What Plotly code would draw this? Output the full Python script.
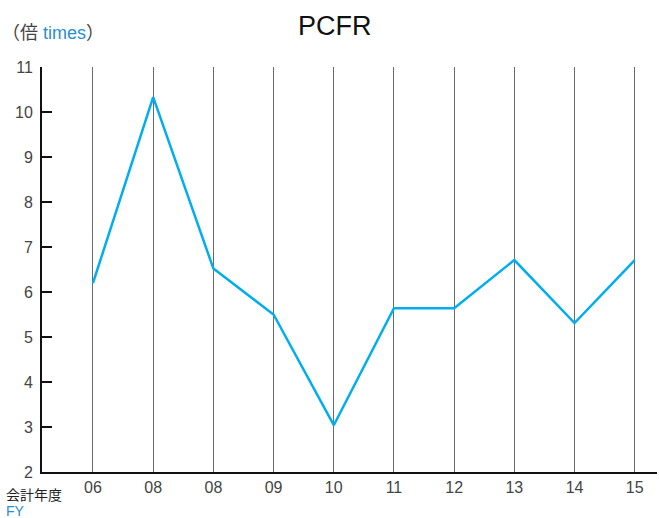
import plotly.graph_objects as go

years = ["06", "08", "08", "09", "10", "11", "12", "13", "14", "15"]
pcfr = [6.2, 10.33, 6.52, 5.5, 3.04, 5.64, 5.64, 6.71, 5.31, 6.71]
y_ticks = [2, 3, 4, 5, 6, 7, 8, 9, 10, 11]

x_pos = list(range(len(years)))
FONT = "Liberation Sans, Noto Sans CJK JP, sans-serif"
CJK = "Noto Sans CJK JP"

fig = go.Figure()
fig.add_trace(go.Scatter(
    x=x_pos, y=pcfr, mode="lines",
    line=dict(color="#00aeef", width=2.5),
    hoverinfo="skip", showlegend=False,
))

fig.update_layout(
    width=659, height=518,
    margin=dict(l=42, r=2, t=67, b=46, autoexpand=False),
    paper_bgcolor="white", plot_bgcolor="white",
    font=dict(family=FONT, color="#444", size=16),
    title=dict(text="PCFR", x=0.508, xanchor="center", y=0.95, yanchor="middle",
               font=dict(family=FONT, size=27, color="#111")),
    showlegend=False,
)
fig.update_xaxes(
    range=[-0.847, 9.37], automargin=False,
    tickmode="array", tickvals=x_pos, ticktext=years,
    showgrid=True, gridcolor="#6a6a6a", gridwidth=1,
    showline=True, linecolor="#111", linewidth=2,
    ticks="", zeroline=False,
    tickfont=dict(size=16, color="#444"),
)
fig.update_yaxes(
    range=[2, 11], automargin=False,
    tickmode="array", tickvals=y_ticks,
    showgrid=False, zeroline=False,
    showline=True, linecolor="#111", linewidth=2,
    ticks="inside", ticklen=10, tickwidth=2, tickcolor="#111",
    tickfont=dict(size=16, color="#444"),
    ticklabelstandoff=4,
)

fig.add_annotation(
    x=0, y=1, xref="paper", yref="paper", xshift=-42, yshift=34,
    xanchor="left", yanchor="middle", showarrow=False,
    text="（倍 <span style='color:#2a8fd0'>times</span>）",
    font=dict(family=FONT, size=18, color="#444"),
)
fig.add_annotation(
    x=0, y=0, xref="paper", yref="paper", xshift=-38, yshift=-22,
    xanchor="left", yanchor="middle", showarrow=False,
    text="会計年度",
    font=dict(family=CJK, size=14, color="#222"),
)
fig.add_annotation(
    x=0, y=0, xref="paper", yref="paper", xshift=-38, yshift=-39,
    xanchor="left", yanchor="middle", showarrow=False,
    text="FY",
    font=dict(family=FONT, size=14, color="#2a8fd0"),
)

fig.write_html(
    "out.html",
    config={"displayModeBar": False},
    post_script="document.body.style.margin='0';document.body.style.overflow='hidden';",
)
